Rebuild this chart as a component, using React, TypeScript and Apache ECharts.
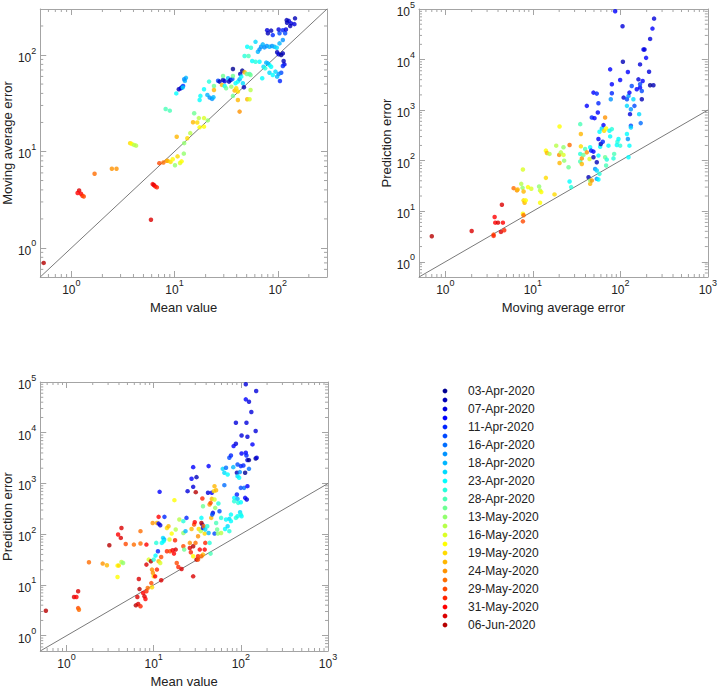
import React, { useEffect, useRef } from 'react';
import * as echarts from 'echarts';

const FONT = '"Liberation Sans", Arial, Helvetica, sans-serif';
const FRAME = '#a4a4a4';
const DIAG = '#7a7a7a';
const TEXT = '#222222';

// jet colormap, 27 steps (one per dated point group)
const jetColors = [
  '#000092', '#0000B6', '#0000DB', '#0000FF', '#0024FF', '#0049FF', '#006DFF', '#0092FF', '#00B6FF',
  '#00DBFF', '#00FFFF', '#24FFDB', '#49FFB6', '#6DFF92', '#92FF6D', '#B6FF49', '#DBFF24', '#FFFF00',
  '#FFDB00', '#FFB600', '#FF9200', '#FF6D00', '#FF4900', '#FF2400', '#FF0000', '#DB0000', '#B60000',
];

const legendDates = [
  '03-Apr-2020', '07-Apr-2020', '11-Apr-2020', '16-Apr-2020', '18-Apr-2020', '23-Apr-2020', '28-Apr-2020',
  '13-May-2020', '16-May-2020', '19-May-2020', '24-May-2020', '29-May-2020', '31-May-2020', '06-Jun-2020',
];

// axis ranges and decade tick exponents
const p1XRange = [0.5, 300];
const p1YRange = [0.5, 300];
const p2XRange = [0.5, 1000];
const p2YRange = [0.5, 100000];
const p3XRange = [0.5, 1000];
const p3YRange = [0.5, 100000];
const p1XExps = [0, 1, 2];
const p1YExps = [0, 1, 2];
const p2XExps = [0, 1, 2, 3];
const p2YExps = [0, 1, 2, 3, 4, 5];
const p3XExps = [0, 1, 2, 3];
const p3YExps = [0, 1, 2, 3, 4, 5];
const p1Diag = [0.5, 300];
const p2Diag = [0.5, 1000];
const p3Diag = [0.5, 1000];

// Plot 1: [mean value, moving average error, colour index]
const p1Points = [
  [0.54, 0.70, 26],
  [1.19, 3.95, 25], [1.15, 3.71, 24], [1.24, 3.65, 24], [1.28, 3.48, 23], [1.32, 3.42, 22],
  [1.68, 5.87, 21], [2.47, 6.62, 20], [2.74, 6.62, 20],
  [3.71, 12.2, 18], [3.85, 12.0, 17], [4.05, 11.7, 15], [4.24, 11.5, 15],
  [5.91, 1.96, 25], [6.14, 4.59, 24], [6.3, 4.5, 25], [6.5, 4.35, 24], [6.75, 4.25, 23],
  [7.12, 7.57, 22], [7.8, 7.7, 21], [8.4, 8.0, 20], [8.6, 8.0, 19], [9.15, 7.8, 18], [9.6, 8.3, 17], [10.1, 7.2, 14],
  [10.7, 8.9, 18], [11.3, 7.6, 16], [11.7, 7.9, 17], [12.3, 9.5, 14],
  [10.5, 14.2, 19], [12.4, 12.2, 14], [13.3, 13.7, 18], [14.2, 15.5, 15], [15.1, 20.1, 19], [15.5, 24.9, 13],
  [16.6, 20, 18], [17.2, 22.2, 15], [19.3, 22.2, 16], [19.3, 18.1, 17], [17.5, 17.8, 17], [21, 21, 14],
  [8.2, 27.6, 12], [9.0, 26.5, 12],
  [10.4, 40, 10], [11.0, 44.2, 1], [11.5, 45.3, 2], [11.8, 46.4, 1], [12.1, 47.7, 4], [12.0, 46, 9], [12.6, 53.9, 8],
  [12.9, 58, 8], [12.4, 56, 7],
  [17.5, 34.2, 10], [17.8, 37.7, 10], [19.3, 44.2, 10], [21.6, 53, 11], [20.8, 38.6, 8], [21.9, 36.2, 7], [23.1, 35.1, 7],
  [23.8, 36.5, 8], [24.1, 47.8, 13], [24.1, 43.4, 19], [26.4, 54.2, 5], [27.3, 53, 1], [29.5, 55.1, 1], [30.6, 53.4, 2],
  [28.8, 49, 19], [29.5, 60.6, 13], [30.6, 47.8, 10], [33, 57.4, 8], [33.7, 53, 1], [34.9, 55.1, 1], [36.3, 56.5, 5],
  [36.8, 60.6, 13], [31.6, 45.2, 13], [35.5, 47, 14], [39, 50.9, 10], [38.2, 42.8, 19], [39.6, 45.2, 18], [41.1, 41.8, 18],
  [36.8, 37.7, 13], [41.1, 53, 10], [42.7, 56, 8], [43.3, 63.6, 1], [45.3, 68.9, 0], [47.7, 66.2, 19], [50.2, 63.6, 13],
  [53.3, 63.6, 12], [54.5, 62, 13], [44.3, 59.7, 10], [45.9, 50.9, 9], [41.1, 34.2, 19], [50.6, 34.8, 19], [53.3, 34.8, 16],
  [54.5, 43.4, 15], [42.7, 25.9, 20],
  [36.8, 71.6, 0], [47, 46.3, 1],
  [47.7, 97.7, 11], [52.1, 97.7, 12], [56.5, 86.7, 10], [60.9, 85.3, 11], [66.6, 85.3, 10], [64.2, 108, 8], [66.6, 114.5, 7],
  [69, 122, 7], [71.6, 129, 8], [74.3, 120, 7], [78.3, 124, 7], [83.1, 122, 8], [88, 124, 7], [92.8, 122, 8], [97.8, 119, 9],
  [60.9, 137, 9], [50.6, 122, 10], [55, 119, 11],
  [80.2, 168, 1], [78.9, 181, 2], [86.3, 179, 1], [89.5, 161, 4], [104, 168, 5], [102, 184, 2], [112, 181, 4], [118, 168, 5],
  [120, 184, 2], [104, 132, 8], [112, 143, 7],
  [123, 216, 1], [128, 226, 2], [122, 230, 1], [135, 213, 2], [132, 200, 1], [145, 209, 2], [147, 240, 1],
  [98.6, 107, 1], [102, 102, 2], [108, 100, 0], [112, 104, 1], [114, 86.7, 1], [116, 80, 2], [112, 77, 4], [108, 65.6, 5],
  [102, 63.6, 7], [105, 53.8, 4], [98.6, 59.7, 8], [95, 67.3, 9], [86.3, 75.7, 10], [83.1, 78.8, 10], [80.2, 82, 8],
  [77.3, 83.4, 8], [72.8, 75.7, 9], [75.5, 72.8, 11], [70.7, 57.4, 10], [83.1, 65.6, 9], [89.5, 62, 10],
];

// Plot 2: [moving average error, prediction error, colour index]
const p2Points = [
  [0.70, 3.2, 26], [2.0, 4.07, 25], [3.66, 7.7, 24], [3.72, 5.94, 24], [4.0, 5.94, 25], [4.43, 13.4, 25], [4.55, 5.94, 24],
  [3.56, 3.45, 22], [3.56, 3.25, 23], [4.32, 3.9, 25], [4.71, 4.2, 23],
  [6.03, 28.6, 21], [6.58, 25.8, 20], [6.7, 27, 19], [7.37, 34.8, 15], [7.63, 29, 14], [7.84, 24.6, 19], [7.7, 66.7, 16],
  [7.84, 16.4, 18], [8.05, 14.7, 19], [7.7, 8.9, 17], [7.84, 8.3, 21], [7.7, 6.3, 22], [8.3, 16.4, 17], [8.8, 30, 17],
  [9.6, 27.8, 16],
  [11.8, 30.9, 14], [12.1, 25.8, 15], [12.5, 23.9, 17], [12.1, 14.7, 17], [14.1, 45.7, 18], [14.1, 158, 17], [14.5, 142, 19],
  [15.5, 136, 15], [18.5, 198, 15], [20.2, 475, 17], [20, 130, 20], [20.2, 90, 19], [20.9, 146, 15], [22.4, 130, 16],
  [22.4, 184, 14], [22.8, 100, 14], [25.6, 74, 13], [26.3, 204, 21], [17.7, 21.5, 18], [26.3, 38.7, 10], [27.4, 30, 11],
  [34.8, 96, 12], [34.8, 136, 11], [34.8, 528, 12], [35.4, 336, 19], [35.4, 192, 18], [36.3, 111, 20], [36.3, 86, 19],
  [37.9, 130, 13], [39.6, 170, 12], [41.4, 146, 20], [41.4, 1213, 3], [43.3, 47.1, 1], [45.2, 34.8, 19], [45.2, 40.5, 14],
  [47.2, 40.5, 20], [44.5, 108, 16], [45.2, 184, 10], [46.4, 158, 4], [49.3, 151, 3], [49.3, 117, 1], [47.2, 715, 4],
  [50.7, 693, 3], [55.3, 897, 3], [49.3, 2220, 3], [53.8, 2120, 4], [56.2, 1370, 4], [57.8, 373, 10], [56.2, 268, 3],
  [58.8, 189, 10], [56.2, 126, 10], [53.8, 93, 1], [51.5, 68.7, 7], [53.8, 63.7, 9], [57.8, 54.8, 11], [53.8, 43.7, 7],
  [56.2, 42.4, 10],
  [59.8, 213, 1], [63, 237, 4], [61.4, 434, 9], [64.2, 505, 3], [65.3, 391, 18], [68.8, 434, 17], [67, 715, 20], [67, 117, 13],
  [68.8, 80, 12], [70, 105, 11], [73.2, 198, 10], [75.1, 391, 10], [76.5, 302, 10], [80, 421, 11], [77.8, 1640, 7],
  [83.5, 111, 11], [85, 136, 12], [91.2, 204, 10], [92.7, 237, 11], [95.3, 268, 10], [99.5, 198, 11],
  [76.5, 6400, 3], [80, 3240, 3], [80, 2150, 4], [99.5, 3940, 3], [107, 9060, 1], [87.3, 90000, 3], [106, 45600, 2],
  [109, 1770, 2], [119, 1640, 5], [122, 5670, 3], [124, 1910, 7], [127, 2220, 3], [119, 1213, 9], [119, 336, 10],
  [122, 268, 7], [127, 198, 10], [129, 832, 2], [132, 1043, 7], [135, 3000, 5], [132, 490, 5], [132, 454, 9], [141, 1640, 9],
  [124, 117, 10], [154, 2580, 3], [161, 4060, 2], [164, 832, 9], [168, 2790, 3], [168, 8020, 2], [168, 3240, 5],
  [171, 553, 6], [184, 15800, 3], [189, 15800, 2], [176, 1640, 1], [180, 3770, 3], [176, 2390, 5], [197, 10800, 3],
  [213, 5750, 2], [219, 3100, 0], [219, 25600, 2], [233, 41000, 3], [243, 64500, 2], [239, 3100, 1], [145, 1213, 5],
];

// Plot 3: [mean value, prediction error, colour index]
const p3Points = [
  [0.58, 3.1, 26], [1.22, 5.8, 25], [1.30, 5.8, 24], [1.36, 7.5, 25], [1.36, 3.5, 22], [1.39, 3.26, 21],
  [1.81, 28, 21], [2.6, 26.4, 20], [2.91, 24.4, 19], [3.1, 60.6, 26], [3.91, 98.5, 24], [4.27, 133, 25], [4.2, 84.6, 25],
  [3.85, 24.1, 17], [3.98, 24.1, 18], [4.27, 28.4, 15], [4.46, 27.2, 14], [3.85, 14.4, 17], [4.78, 64.4, 22],
  [7.06, 65.5, 21], [7.06, 115, 21], [8.26, 62.5, 24], [5.93, 62.5, 21],
  [6.25, 3.97, 26], [6.65, 4.22, 25], [7.06, 3.8, 23], [6.5, 5.8, 25], [6.88, 8.3, 26], [6.76, 13.1, 25], [7.57, 6.95, 24],
  [7.84, 5.97, 25], [8.05, 5.3, 24], [8.26, 7.5, 23], [8.55, 8.7, 21], [8.26, 25.2, 25], [8.78, 31.6, 16], [9.3, 29.3, 26],
  [9.57, 20.1, 20], [9.8, 17.3, 20], [10, 14.8, 18], [9.4, 10.9, 22], [9.57, 9.0, 18], [10.4, 14.8, 24], [10, 31.6, 11],
  [10.5, 37.9, 10],
  [9.74, 167, 20], [10.9, 167, 19], [11.4, 220, 24], [11.4, 162, 3], [11.9, 150, 2], [11.7, 685, 3], [11.2, 46.2, 4],
  [10.7, 67.5, 11], [11.4, 29.3, 19], [11.9, 27.2, 16], [12.2, 35.7, 22], [10.9, 20.1, 23], [12.2, 12.4, 25],
  [12.8, 84.6, 9], [13.2, 78.5, 8], [13, 72.8, 10], [13.3, 220, 4], [12.4, 67.5, 10], [14.2, 133, 18], [14.8, 144, 19],
  [14.2, 46.2, 23], [15.4, 46.2, 22], [16.5, 48.3, 24], [15.2, 78.5, 16], [16.1, 103, 17], [17.6, 76.2, 23],
  [17.9, 49.8, 25], [17.1, 41.5, 24], [18.4, 27.2, 22], [19.2, 22.6, 23], [20.9, 20.7, 25], [17.9, 124, 15],
  [19.7, 195, 15], [21.9, 106, 14], [23.2, 115, 8], [21.9, 181, 11], [17.3, 469, 17], [23.8, 210, 4], [21.9, 58, 22],
  [22.4, 49.8, 13],
  [24.5, 706, 2], [27.2, 1240, 3], [28.4, 2100, 3], [28.4, 859, 2], [31, 1334, 1], [30.4, 675, 26], [27.2, 127, 19],
  [26, 67.5, 20], [26, 53.7, 25], [26.7, 44.2, 23], [28.4, 58, 26], [28.4, 36.8, 17], [29.1, 155, 22], [29.6, 173, 24],
  [30.2, 67.5, 21], [28.4, 14.8, 25], [31, 31.6, 26], [32.3, 36.8, 23], [33.8, 49.8, 24], [32.3, 91, 20], [32.9, 127, 18],
  [34.7, 115, 15], [36.2, 155, 4], [36.8, 133, 2], [35.3, 210, 10], [35.3, 167, 26], [36.2, 506, 23], [36.8, 357, 13],
  [37.5, 144, 21], [38.5, 103, 18], [39.1, 67.5, 23], [38.5, 49.8, 24], [36.8, 39.7, 19], [35.3, 36.8, 21],
  [32.3, 31.6, 22], [39.1, 124, 9], [41.2, 144, 11], [42.7, 106, 8], [42, 655, 2], [42.7, 2200, 3], [43.8, 385, 20],
  [45, 415, 22], [46.5, 498, 19], [45.7, 210, 19], [43.8, 67.5, 11], [45, 41.5, 12], [46.5, 655, 3], [47.8, 264, 2],
  [47, 244, 5], [49, 706, 18], [49.9, 483, 16], [50.8, 331, 14], [52.1, 167, 12], [53.5, 124, 13], [49.9, 103, 5],
  [55.3, 403, 11], [54.5, 103, 14], [59.4, 106, 15], [59.4, 210, 11], [49.9, 886, 19], [52, 738, 19], [56.9, 284, 5],
  [62, 1945, 9], [64.7, 1625, 9], [70.6, 1506, 10], [67.6, 2040, 6], [64.7, 927, 6], [73.8, 3210, 5], [77, 3570, 4],
  [82.6, 5460, 3], [81.9, 2100, 8], [91.7, 2370, 5], [87.8, 6060, 2], [87.8, 15700, 2], [90.1, 1625, 1], [91.7, 1396, 9],
  [95.7, 1294, 10], [97.5, 1675, 7], [102, 3910, 3], [100, 2200, 4], [102, 8850, 2], [114, 90000, 2], [114, 45500, 3],
  [124, 40900, 2], [116, 15700, 2], [119, 8340, 2], [114, 4030, 3], [116, 3570, 4], [119, 2890, 2], [112, 1625, 0],
  [107, 2260, 4], [124, 1945, 6], [132, 25600, 2], [136, 5890, 3], [124, 2890, 0], [150, 66400, 2], [148, 10800, 2],
  [148, 3110, 0], [152, 3210, 2],
  [84, 521, 10], [84, 448, 11], [91.7, 498, 8], [93.3, 415, 11], [100, 428, 10], [90.1, 607, 4], [100, 820, 5],
  [109, 820, 6], [112, 521, 3], [117, 483, 2], [119, 886, 3], [91.7, 226, 10], [98, 272, 9], [100, 244, 11],
  [102, 226, 10], [77, 244, 10], [73.8, 201, 9], [67.6, 195, 10], [65.9, 127, 10], [70.6, 144, 9], [73.8, 115, 11],
  [77, 181, 10], [87.8, 210, 11],
];

const plots = [
  { grid: { left: 39, top: 9, width: 288, height: 268 }, xr: p1XRange, yr: p1YRange, xe: p1XExps, ye: p1YExps,
    xName: 'Mean value', yName: 'Moving average error', pts: p1Points, diag: p1Diag },
  { grid: { left: 419, top: 9, width: 290, height: 268 }, xr: p2XRange, yr: p2YRange, xe: p2XExps, ye: p2YExps,
    xName: 'Moving average error', yName: 'Prediction error', pts: p2Points, diag: p2Diag },
  { grid: { left: 39, top: 382, width: 289, height: 270 }, xr: p3XRange, yr: p3YRange, xe: p3XExps, ye: p3YExps,
    xName: 'Mean value', yName: 'Prediction error', pts: p3Points, diag: p3Diag },
];

function minorTicks(range: number[]) {
  const out: number[] = [];
  for (let e = -1; e <= 5; e++) {
    for (let k = 2; k <= 9; k++) {
      const v = k * Math.pow(10, e);
      if (v > range[0] * 1.0001 && v < range[1] * 0.9999) out.push(v);
    }
  }
  return out;
}

const rich = {
  b: { fontSize: 12, fontFamily: FONT, color: TEXT, lineHeight: 18, verticalAlign: 'bottom' },
  s: { fontSize: 9, fontFamily: FONT, color: TEXT, lineHeight: 9, verticalAlign: 'top' },
};

function labelFmt(exps: number[]) {
  return (v: number) => {
    const e = Math.log10(v);
    const r = Math.round(e);
    if (Math.abs(e - r) > 1e-6 || exps.indexOf(r) < 0) return '';
    return `{b|10}{s|${r}}`;
  };
}

function axis(range: number[], exps: number[], gridIndex: number, position: string, isX: boolean, name?: string) {
  const showLabel = position === 'bottom' || position === 'left';
  return {
    type: 'log', logBase: 10, min: range[0], max: range[1], gridIndex, position,
    axisLine: { show: true, onZero: false, lineStyle: { color: FRAME, width: 1 } },
    axisTick: { show: true, inside: true, length: 6, lineStyle: { color: FRAME, width: 1 } },
    minorTick: { show: false },
    splitLine: { show: false },
    axisLabel: { show: showLabel, margin: isX ? 1 : 4, formatter: labelFmt(exps), rich },
    name: showLabel ? name : '',
    nameLocation: 'middle',
    nameGap: isX ? 24 : 25,
    nameTextStyle: { fontSize: 13, fontFamily: FONT, color: TEXT },
  };
}

export default function App() {
  const ref = useRef<HTMLDivElement>(null);
  useEffect(() => {
    if (!ref.current) return;
    const chart = echarts.init(ref.current, undefined, { renderer: 'svg' });
    const xAxis: any[] = [];
    const yAxis: any[] = [];
    const series: any[] = [];
    plots.forEach((p, g) => {
      xAxis.push(axis(p.xr, p.xe, g, 'bottom', true, p.xName));
      xAxis.push(axis(p.xr, p.xe, g, 'top', true));
      yAxis.push(axis(p.yr, p.ye, g, 'left', false, p.yName));
      yAxis.push(axis(p.yr, p.ye, g, 'right', false));
      const mx = minorTicks(p.xr).map((v) => [v, 1, 0]);
      const my = minorTicks(p.yr).map((v) => [1, v, 1]);
      series.push({
        type: 'custom', xAxisIndex: 2 * g, yAxisIndex: 2 * g, silent: true, clip: false, z: 1,
        data: mx.concat(my),
        renderItem: (params: any, api: any) => {
          const flag = api.value(2);
          const st = { stroke: FRAME, lineWidth: 1 };
          if (flag === 0) {
            const v = api.value(0);
            const a = api.coord([v, p.yr[0]]);
            const b = api.coord([v, p.yr[1]]);
            return { type: 'group', children: [
              { type: 'line', shape: { x1: a[0], y1: a[1], x2: a[0], y2: a[1] - 3 }, style: st },
              { type: 'line', shape: { x1: b[0], y1: b[1], x2: b[0], y2: b[1] + 3 }, style: st },
            ] };
          }
          const v = api.value(1);
          const a = api.coord([p.xr[0], v]);
          const b = api.coord([p.xr[1], v]);
          return { type: 'group', children: [
            { type: 'line', shape: { x1: a[0], y1: a[1], x2: a[0] + 3, y2: a[1] }, style: st },
            { type: 'line', shape: { x1: b[0], y1: b[1], x2: b[0] - 3, y2: b[1] }, style: st },
          ] };
        },
      });
      series.push({
        type: 'line', xAxisIndex: 2 * g, yAxisIndex: 2 * g, symbol: 'none', silent: true, z: 2,
        data: [[p.diag[0], p.diag[0]], [p.diag[1], p.diag[1]]],
        lineStyle: { color: DIAG, width: 1 },
      });
      series.push({
        type: 'scatter', xAxisIndex: 2 * g, yAxisIndex: 2 * g, symbolSize: 4.5, z: 3, silent: true,
        data: p.pts.map((q) => ({ value: [q[0], q[1]], itemStyle: { color: jetColors[q[2]] } })),
      });
    });

    const graphic: any[] = [];
    jetColors.forEach((c, i) => {
      graphic.push({ type: 'circle', shape: { cx: 445, cy: 391 + 9 * i, r: 2.4 }, style: { fill: c }, silent: true });
    });
    legendDates.forEach((d, k) => {
      graphic.push({
        type: 'text', x: 468, y: 391 + 18 * k, silent: true,
        style: { text: d, fontSize: 12, fontFamily: FONT, fill: TEXT, align: 'left', verticalAlign: 'middle' },
      });
    });

    chart.setOption({
      animation: false,
      backgroundColor: '#ffffff',
      grid: plots.map((p) => ({ ...p.grid, containLabel: false })),
      xAxis,
      yAxis,
      series,
      graphic,
    });
    return () => chart.dispose();
  }, []);
  return <div ref={ref} style={{ position: 'absolute', left: 0, top: 0, width: 720, height: 689 }} />;
}
